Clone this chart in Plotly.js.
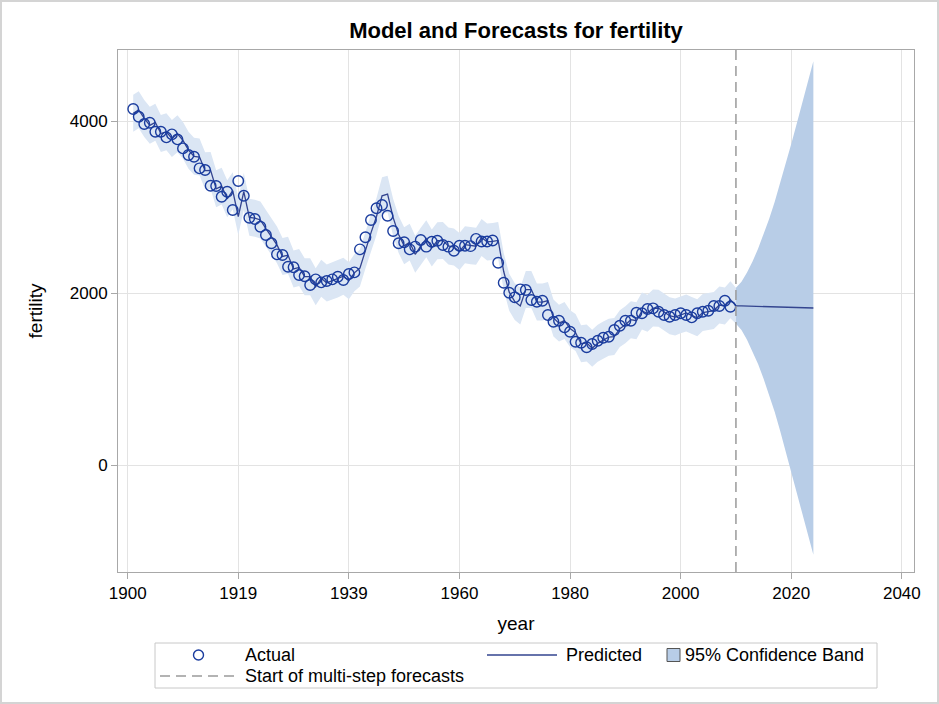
<!DOCTYPE html>
<html>
<head>
<meta charset="utf-8">
<script src="https://cdn.plot.ly/plotly-3.0.1.min.js"></script>
<style>
  html, body { margin: 0; padding: 0; background: #ffffff; }
  #wrap { position: relative; width: 939px; height: 704px; }
  #chart { width: 939px; height: 704px; }
  #frame { position: absolute; left: 0; top: 0; width: 939px; height: 704px; box-sizing: border-box;
           border: 2px solid #d4d4d4; pointer-events: none; }
</style>
</head>
<body>
<div id="wrap"><div id="chart"></div><div id="frame"></div></div>
<script>
// ---------------- data ----------------
const firstYear = 1901;
const forecastStartYear = 2010;

// Actual fertility, 1901-2009
const actual = [
  4140, 4050, 3965, 3980, 3876, 3876, 3810, 3845, 3787, 3682,
  3605, 3585, 3450, 3430, 3248, 3244, 3120, 3178, 2965, 3302,
  3131, 2876, 2860, 2771, 2674, 2578, 2450, 2442, 2306, 2299,
  2209, 2195, 2093, 2159, 2124, 2140, 2159, 2190, 2151, 2221,
  2240, 2508, 2648, 2849, 2985, 3023, 2899, 2721, 2578, 2590,
  2508, 2539, 2616, 2539, 2597, 2608, 2558, 2539, 2492, 2550,
  2550, 2545, 2630, 2600, 2600, 2610, 2352, 2120, 2003, 1950,
  2043, 2035, 1919, 1899, 1911, 1744, 1666, 1678, 1601, 1550,
  1434, 1422, 1369, 1407, 1445, 1480, 1492, 1570, 1620, 1678,
  1678, 1771, 1765, 1815, 1822, 1783, 1744, 1725, 1744, 1764,
  1744, 1717, 1764, 1783, 1794, 1849, 1849, 1911, 1841
];

// Predicted (one-step 1901-2009, multi-step 2010-2024)
const predicted = [
  4090, 4130, 4030, 3950, 3985, 3855, 3876, 3797, 3852, 3775,
  3661, 3590, 3581, 3423, 3426, 3212, 3243, 3095, 3190, 2890,
  3180, 2880, 2870, 2850, 2750, 2655, 2560, 2425, 2440, 2280,
  2298, 2190, 2190, 2073, 2172, 2117, 2143, 2163, 2196, 2143,
  2235, 2290, 2500, 2700, 2890, 3130, 3150, 2880, 2680, 2550,
  2592, 2450, 2545, 2631, 2524, 2609, 2610, 2548, 2535, 2483,
  2562, 2550, 2544, 2647, 2594, 2600, 2612, 2250, 2010, 1900,
  1850, 2040, 2040, 1896, 1895, 1913, 1710, 1650, 1680, 1586,
  1540, 1411, 1420, 1358, 1415, 1453, 1487, 1494, 1586, 1630,
  1690, 1678, 1790, 1764, 1825, 1823, 1775, 1736, 1721, 1748,
  1768, 1740, 1712, 1773, 1787, 1796, 1860, 1849, 1923,
  1852, 1850, 1848, 1846, 1845, 1843, 1841, 1839, 1837, 1835,
  1833, 1832, 1830, 1828, 1826
];

// 95% confidence band, 1901-2024
const upper95 = [
  4305, 4345, 4245, 4165, 4200, 4070, 4091, 4012, 4067, 3990,
  3876, 3805, 3796, 3638, 3641, 3427, 3458, 3310, 3405, 3105,
  3395, 3095, 3085, 3065, 2965, 2870, 2775, 2640, 2655, 2495,
  2513, 2405, 2405, 2288, 2387, 2332, 2358, 2378, 2411, 2358,
  2450, 2505, 2715, 2915, 3105, 3345, 3365, 3095, 2895, 2765,
  2807, 2665, 2760, 2846, 2739, 2824, 2825, 2763, 2750, 2698,
  2777, 2765, 2759, 2862, 2809, 2815, 2827, 2465, 2225, 2115,
  2065, 2255, 2255, 2111, 2110, 2128, 1925, 1865, 1895, 1801,
  1755, 1626, 1635, 1573, 1630, 1668, 1702, 1709, 1801, 1845,
  1905, 1893, 2005, 1979, 2040, 2038, 1990, 1951, 1936, 1963,
  1983, 1955, 1927, 1988, 2002, 2011, 2075, 2064, 2138,
  2062, 2130, 2238, 2366, 2515, 2683, 2861, 3059, 3277, 3505,
  3733, 3972, 4210, 4458, 4696
];
const lower95 = [
  3875, 3915, 3815, 3735, 3770, 3640, 3661, 3582, 3637, 3560,
  3446, 3375, 3366, 3208, 3211, 2997, 3028, 2880, 2975, 2675,
  2965, 2665, 2655, 2635, 2535, 2440, 2345, 2210, 2225, 2065,
  2083, 1975, 1975, 1858, 1957, 1902, 1928, 1948, 1981, 1928,
  2020, 2075, 2285, 2485, 2675, 2915, 2935, 2665, 2465, 2335,
  2377, 2235, 2330, 2416, 2309, 2394, 2395, 2333, 2320, 2268,
  2347, 2335, 2329, 2432, 2379, 2385, 2397, 2035, 1795, 1685,
  1635, 1825, 1825, 1681, 1680, 1698, 1495, 1435, 1465, 1371,
  1325, 1196, 1205, 1143, 1200, 1238, 1272, 1279, 1371, 1415,
  1475, 1463, 1575, 1549, 1610, 1608, 1560, 1521, 1506, 1533,
  1553, 1525, 1497, 1558, 1572, 1581, 1645, 1634, 1708,
  1642, 1570, 1458, 1326, 1175, 1003, 821, 619, 397, 165,
  -67, -308, -550, -802, -1044
];

const xTickVals = [1900, 1920, 1940, 1960, 1980, 2000, 2020, 2040];
const xTickText = ['1900', '1919', '1939', '1960', '1980', '2000', '2020', '2040'];
const yTickVals = [0, 2000, 4000];

// ---------------- derived x positions ----------------
const actualYears = actual.map((_, i) => firstYear + i);
const allYears = predicted.map((_, i) => firstYear + i);

const histIdx = allYears.map((y, i) => i).filter(i => allYears[i] <= forecastStartYear);
const fcIdx = allYears.map((y, i) => i).filter(i => allYears[i] >= forecastStartYear);

function bandTrace(idx, color) {
  const xs = idx.map(i => allYears[i]);
  const up = idx.map(i => upper95[i]);
  const lo = idx.map(i => lower95[i]);
  return {
    x: xs.concat(xs.slice().reverse()),
    y: up.concat(lo.slice().reverse()),
    type: 'scatter', mode: 'lines', fill: 'toself',
    fillcolor: color, line: { width: 0, color: color },
    hoverinfo: 'skip', showlegend: false
  };
}

const markerColor = '#1a3c9e';
const lineColor = '#33448f';
const bandLight = '#dbe6f4';
const bandDark = '#b8cde7';

const traces = [
  bandTrace(histIdx, bandLight),
  bandTrace(fcIdx, bandDark),
  {
    x: allYears, y: predicted, type: 'scatter', mode: 'lines',
    line: { color: lineColor, width: 1.3 }, showlegend: false, name: 'Predicted'
  },
  {
    x: actualYears, y: actual, type: 'scatter', mode: 'markers',
    marker: { symbol: 'circle-open', size: 10.5, color: markerColor, line: { width: 1.4, color: markerColor } },
    showlegend: false, name: 'Actual'
  }
];

// ---------------- layout ----------------
const L = 118, R = 914, T = 50, B = 572;
const PW = R - L, PH = B - T;
const px = v => (v - L) / PW;        // pixel -> paper x
const py = v => (B - v) / PH;        // pixel -> paper y

const font = 'Liberation Sans, Arial, sans-serif';
const shapes = [
  // start of multi-step forecasts
  { type: 'line', xref: 'x', yref: 'paper', x0: forecastStartYear, x1: forecastStartYear, y0: 0, y1: 1,
    line: { color: '#9a9a9a', width: 1.5, dash: '10px,6px' } },
  // legend box
  { type: 'rect', xref: 'paper', yref: 'paper', x0: px(155), x1: px(877), y0: py(643), y1: py(688),
    line: { color: '#c8c8c8', width: 1 }, fillcolor: 'rgba(0,0,0,0)' },
  // legend: actual marker
  { type: 'circle', xref: 'paper', yref: 'paper', x0: px(193.5), x1: px(203.5), y0: py(650), y1: py(660),
    line: { color: markerColor, width: 1.4 } },
  // legend: predicted line
  { type: 'line', xref: 'paper', yref: 'paper', x0: px(487), x1: px(557), y0: py(655), y1: py(655),
    line: { color: lineColor, width: 1.3 } },
  // legend: band swatch
  { type: 'rect', xref: 'paper', yref: 'paper', x0: px(667), x1: px(680), y0: py(648.5), y1: py(661.5),
    line: { color: '#555555', width: 1 }, fillcolor: bandDark },
  // legend: dashed
  { type: 'line', xref: 'paper', yref: 'paper', x0: px(160), x1: px(238), y0: py(676), y1: py(676),
    line: { color: '#9a9a9a', width: 1.5, dash: '10px,6px' } }
];

const legendText = (x, y, t) => ({
  xref: 'paper', yref: 'paper', x: px(x), y: py(y), xanchor: 'left', yanchor: 'middle',
  text: t, showarrow: false, font: { family: font, size: 18, color: '#000000' }
});

const annotations = [
  legendText(243, 655, 'Actual'),
  legendText(564, 655, 'Predicted'),
  legendText(683, 655, '95% Confidence Band'),
  legendText(243, 676, 'Start of multi-step forecasts')
];

const layout = {
  width: 939, height: 704,
  margin: { l: L, r: 939 - R, t: T, b: 704 - B, pad: 0 },
  paper_bgcolor: '#ffffff', plot_bgcolor: '#ffffff',
  font: { family: font, size: 17, color: '#000000' },
  title: { text: '<b>Model and Forecasts for fertility</b>', x: 0.5, xref: 'paper', xanchor: 'center',
           y: 1 - 30 / 704, yref: 'container', yanchor: 'middle',
           font: { family: font, size: 22, color: '#000000' } },
  xaxis: {
    range: [1898.25, 2042.2], tickvals: xTickVals, ticktext: xTickText,
    showgrid: true, gridcolor: '#e3e3e3', gridwidth: 1, zeroline: false,
    showline: true, mirror: true, linecolor: '#a8a8a8', linewidth: 1,
    ticks: 'outside', ticklen: 6, tickcolor: '#a8a8a8',
    tickfont: { family: font, size: 17, color: '#000000' },
    title: { text: 'year', font: { family: font, size: 19, color: '#000000' }, standoff: 14 }
  },
  yaxis: {
    range: [-1244, 4826], tickvals: yTickVals, ticktext: yTickVals.map(String),
    showgrid: true, gridcolor: '#e3e3e3', gridwidth: 1, zeroline: false,
    showline: true, mirror: true, linecolor: '#a8a8a8', linewidth: 1,
    ticks: 'outside', ticklen: 6, tickcolor: '#a8a8a8',
    tickfont: { family: font, size: 17, color: '#000000' },
    title: { text: 'fertility', font: { family: font, size: 19, color: '#000000' }, standoff: 22 }
  },
  shapes: shapes,
  annotations: annotations,
  showlegend: false
};

Plotly.newPlot('chart', traces, layout, { displayModeBar: false, staticPlot: true });
</script>
</body>
</html>
